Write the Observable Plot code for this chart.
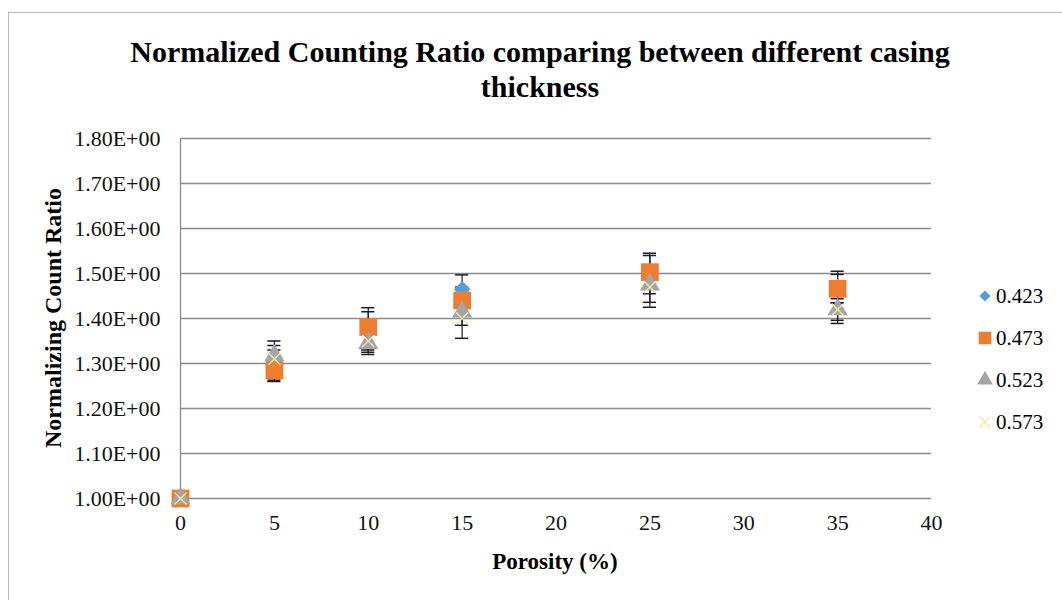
<!DOCTYPE html>
<html><head><meta charset="utf-8">
<script src="https://cdn.jsdelivr.net/npm/d3@7"></script>
<script src="https://cdn.jsdelivr.net/npm/@observablehq/plot@0.6"></script>
<style>
html,body{margin:0;padding:0;background:#fff;overflow:hidden;}
#wrap{position:relative;width:1062px;height:600px;font-family:"Liberation Serif","Times New Roman",serif;color:#000;}
#frame{position:absolute;left:8px;top:12px;width:1100px;height:700px;border:1px solid #b8b8b8;}
#title{position:absolute;left:0;width:1080px;top:34px;text-align:center;font-weight:bold;font-size:30px;line-height:35px;}
#chart{position:absolute;left:0;top:0;}
#xlabel{position:absolute;left:455px;width:200px;top:548px;text-align:center;font-weight:bold;font-size:23px;line-height:28px;}
#ylabel{position:absolute;left:53px;top:318px;transform:translate(-50%,-50%) rotate(-90deg);white-space:nowrap;font-weight:bold;font-size:24px;line-height:28px;}
#legend{position:absolute;left:976px;top:275px;}
.item{height:42px;display:flex;align-items:center;font-size:21px;}
.item svg{margin-right:2px;}
</style>
</head><body>
<div id="wrap">
  <div id="frame"></div>
  <div id="chart"></div>
  <div id="title">Normalized Counting Ratio comparing between different casing<br>thickness</div>
  <div id="xlabel">Porosity (%)</div>
  <div id="ylabel">Normalizing Count Ratio</div>
  <div id="legend"></div>
</div>
<script>
// ---- data ----
const porosity = [0, 5, 10, 15, 25, 35];
const seriesNames = ["0.423", "0.473", "0.523", "0.573"];
const v423 = [1.00, 1.305, 1.370, 1.465, 1.500, 1.470];
const v473 = [1.00, 1.285, 1.381, 1.440, 1.503, 1.466];
const v523 = [1.00, 1.318, 1.345, 1.415, 1.475, 1.420];
const v573 = [1.00, 1.310, 1.350, 1.400, 1.470, 1.420];
const e423 = [0, 0.045, 0.045, 0.032, 0.045, 0.035];
const e473 = [0, 0.022, 0.043, 0.030, 0.037, 0.032];
const e523 = [0, 0.022, 0.025, 0.030, 0.039, 0.024];
const e573 = [0, 0.020, 0.020, 0.044, 0.045, 0.031];
const xTicks = [0, 5, 10, 15, 20, 25, 30, 35, 40];
const yTicks = [1.0, 1.1, 1.2, 1.3, 1.4, 1.5, 1.6, 1.7, 1.8];

const colors = {"0.423": "#5B9BD5", "0.473": "#ED7D31", "0.523": "#A5A5A5", "0.573": "#F5E8A8"};
const symbols = {"0.423": "diamond2", "0.473": "square", "0.523": "triangle", "0.573": "times"};
const radii = {"0.423": 7.5, "0.473": 10, "0.523": 7.5, "0.573": 5.5};

const allVals = [v423, v473, v523, v573];
const allErrs = [e423, e473, e523, e573];
const rows = seriesNames.map((s, i) => porosity.map((x, j) => ({series: s, x, y: allVals[i][j], e: allErrs[i][j]})));
const errRows = rows.flat().filter(d => d.e > 0);

const marks = [
  Plot.gridY(yTicks, {stroke: "#8a8a8a", strokeOpacity: 1, strokeWidth: 1.3}),
  Plot.ruleX([0], {stroke: "#8a8a8a", strokeWidth: 1.3}),
  Plot.ruleX(errRows, {x: "x", y1: d => d.y - d.e, y2: d => d.y + d.e, stroke: "#1a1a2a", strokeWidth: 1.2}),
  Plot.ruleY(errRows, {y: d => d.y + d.e, x1: d => d.x - 0.35, x2: d => d.x + 0.35, stroke: "#1a1a2a", strokeWidth: 1.5}),
  Plot.ruleY(errRows, {y: d => d.y - d.e, x1: d => d.x - 0.35, x2: d => d.x + 0.35, stroke: "#1a1a2a", strokeWidth: 1.5})
];
rows.forEach(r => {
  const s = r[0].series;
  const isStroke = symbols[s] === "times";
  marks.push(Plot.dot(r, {x: "x", y: "y", symbol: () => symbols[s], r: radii[s],
    fill: isStroke ? "none" : colors[s], stroke: isStroke ? colors[s] : "none", strokeWidth: isStroke ? 1.3 : 0}));
});

const chart = Plot.plot({
  width: 1062, height: 600,
  marginLeft: 180, marginRight: 131, marginTop: 138, marginBottom: 102,
  style: {fontFamily: "Liberation Serif, Times New Roman, serif", fontSize: "22px", color: "#111", background: "transparent", overflow: "visible"},
  x: {domain: [0, 40], ticks: xTicks, tickSize: 0, tickPadding: 16, label: null},
  y: {domain: [1.0, 1.8], ticks: yTicks, tickSize: 0, tickPadding: 20, label: null, tickFormat: d => d.toFixed(2) + "E+00"},
  marks
});
document.getElementById("chart").appendChild(chart);

// legend
const leg = d3.select("#legend");
const legSize = {"0.423": 80, "0.473": 160, "0.523": 110, "0.573": 90};
const symMap = {diamond2: d3.symbolDiamond2, square: d3.symbolSquare, triangle: d3.symbolTriangle, times: d3.symbolTimes};
seriesNames.forEach(s => {
  const it = leg.append("div").attr("class", "item");
  const svg = it.append("svg").attr("width", 18).attr("height", 18);
  const isStroke = symbols[s] === "times";
  svg.append("path").attr("transform", "translate(9,9)")
    .attr("d", d3.symbol(symMap[symbols[s]], legSize[s])())
    .attr("fill", isStroke ? "none" : colors[s])
    .attr("stroke", isStroke ? colors[s] : "none")
    .attr("stroke-width", 1.5);
  it.append("span").text(s);
});
</script>
</body></html>
